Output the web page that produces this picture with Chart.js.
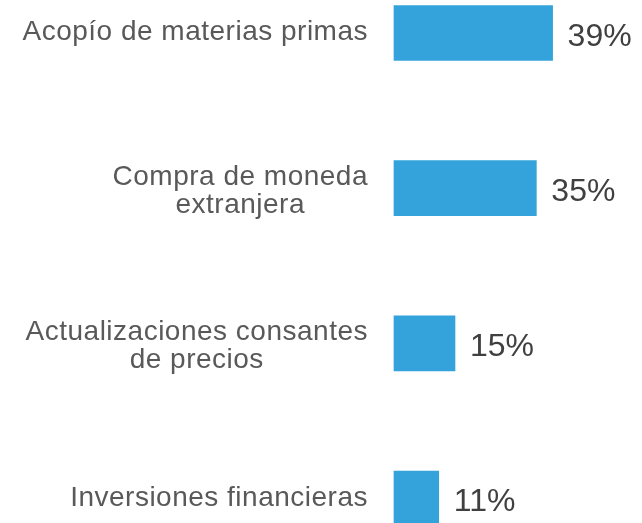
<!DOCTYPE html>
<html>
<head>
<meta charset="utf-8">
<script src="https://cdn.jsdelivr.net/npm/chart.js@4.4.0/dist/chart.umd.min.js"></script>
<style>
html, body { margin: 0; padding: 0; background: #ffffff; }
#wrap { width: 642px; height: 523px; }
</style>
</head>
<body>
<div id="wrap"><canvas id="c" width="642" height="523"></canvas></div>
<script>
const categories = [
  ["Acopío de materias primas"],
  ["Compra de moneda", "extranjera"],
  ["Actualizaciones consantes", "de precios"],
  ["Inversiones financieras"]
];
const values = [39, 35, 15, 11];
const valueLabels = ["39%", "35%", "15%", "11%"];

const labelPlugin = {
  id: 'labelPlugin',
  afterDatasetsDraw(chart) {
    const ctx = chart.ctx;
    const xs = chart.scales.x;
    const ys = chart.scales.y;
    ctx.save();
    // value labels
    ctx.font = '32px "Liberation Sans", Arial, sans-serif';
    ctx.fillStyle = '#404040';
    ctx.textAlign = 'left';
    ctx.textBaseline = 'alphabetic';
    values.forEach((v, i) => {
      const x = xs.getPixelForValue(v) + 15;
      const y = ys.getPixelForValue(i) + 12.5;
      ctx.fillText(valueLabels[i], x, y);
    });
    // category labels: right-aligned blocks, lines centered within block
    ctx.font = '28px "Liberation Sans", Arial, sans-serif';
    try { ctx.letterSpacing = '0.5px'; } catch (e) {}
    ctx.fillStyle = '#595959';
    ctx.textAlign = 'center';
    const rightEdge = xs.left - 26;
    const lineH = 28;
    categories.forEach((lines, i) => {
      const c = ys.getPixelForValue(i);
      const w = Math.max(...lines.map(l => ctx.measureText(l).width));
      const cx = rightEdge - w / 2;
      const n = lines.length;
      const meanBase = c + (n === 1 ? 7 : 11);
      lines.forEach((l, k) => {
        const y = meanBase + (k - (n - 1) / 2) * lineH;
        ctx.fillText(l, cx, y);
      });
    });
    ctx.restore();
  }
};

new Chart(document.getElementById('c'), {
  type: 'bar',
  data: {
    labels: categories,
    datasets: [{
      data: values,
      backgroundColor: '#34A3DB',
      borderWidth: 0,
      barThickness: 55,
      clip: false
    }]
  },
  options: {
    indexAxis: 'y',
    responsive: false,
    animation: false,
    devicePixelRatio: 1,
    layout: { padding: { left: 394, right: 4, top: 33, bottom: 24.5 } },
    plugins: { legend: { display: false }, tooltip: { enabled: false } },
    scales: {
      x: { display: false, min: 0, max: 60 },
      y: { display: false, offset: false }
    }
  },
  plugins: [labelPlugin]
});
</script>
</body>
</html>
